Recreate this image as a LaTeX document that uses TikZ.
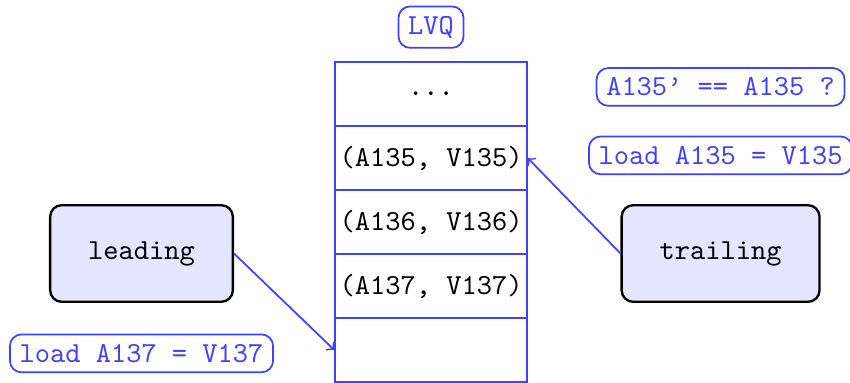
\documentclass[tikz,border=0pt]{standalone}
\usepackage{xcolor}
\usepackage{tikz}
\usetikzlibrary{positioning}

\tikzset{
  cell/.style={draw=blue!75,semithick,minimum width=2.32cm,minimum height=0.775cm,
    inner sep=0pt,font=\ttfamily},
  unit/.style={draw,thick,fill=blue!10,rounded corners,minimum height=1.17cm,
    inner xsep=0.46cm,font=\ttfamily},
  note/.style={draw=blue!75,semithick,text=blue!75,rounded corners,font=\ttfamily},
}

\begin{document}
\begin{tikzpicture}[>=to]
  \useasboundingbox (0,0) rectangle (10.29,4.625);
  % the queue, one entry per cell
  \node[cell] (c0) at (5.218,3.487) {...};
  \node[cell] (c1) at (5.218,2.712) {(A135, V135)};
  \node[cell] (c2) at (5.218,1.937) {(A136, V136)};
  \node[cell] (c3) at (5.218,1.162) {(A137, V137)};
  \node[cell] (c4) at (5.218,0.387) {};
  \node[note,above=0.15cm of c0] (lvq) {LVQ};

  \node[unit] (lead) at (1.713,1.556) {leading};
  \node[unit] (trail) at (8.723,1.556) {trailing};
  \node[note,below=0.37cm of lead] (ld137) {load A137 = V137};
  \node[note,above=0.35cm of trail] (ld135) {load A135 = V135};
  \node[note,above=0.35cm of ld135] (chk) {A135\textquoteright{} == A135 ?};

  \draw[blue!75,semithick,->] (lead.east) -- (c4.west);
  \draw[blue!75,semithick,->] (trail.west) -- (c1.east);
\end{tikzpicture}
\end{document}
